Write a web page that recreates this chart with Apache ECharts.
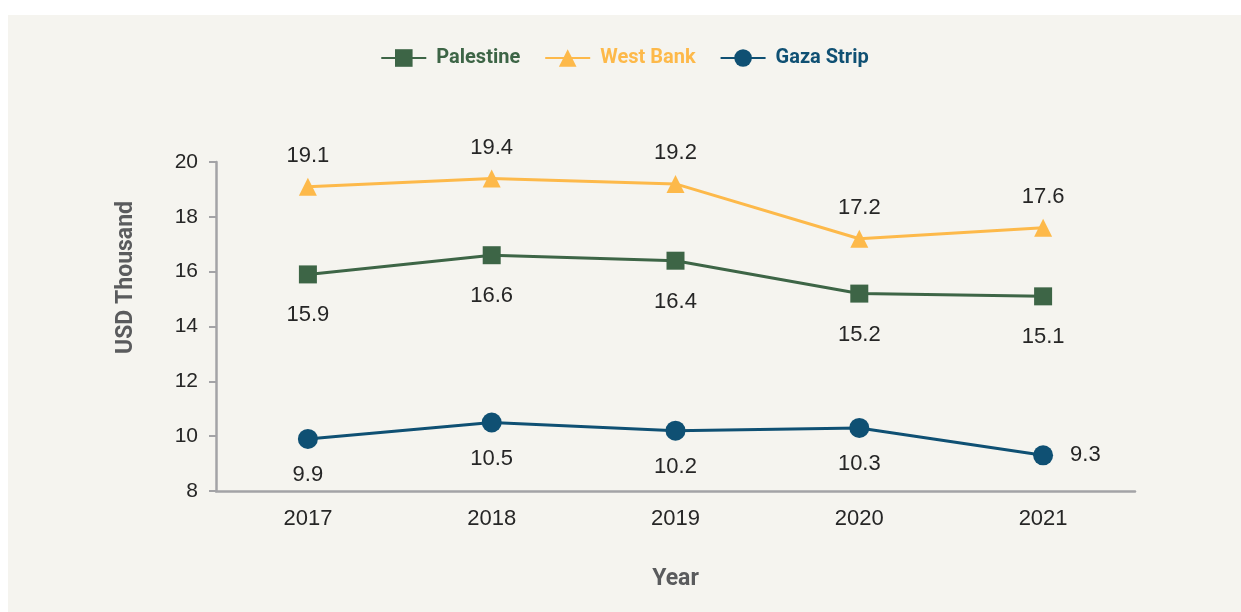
<!DOCTYPE html>
<html>
<head>
<meta charset="utf-8">
<title>Per capita GDP, Palestine, West Bank and Gaza Strip</title>
<script src="https://cdn.jsdelivr.net/npm/echarts@6/dist/echarts.min.js"></script>
<style>
  html, body { margin: 0; padding: 0; background: #ffffff; }
  #chart { position: absolute; left: 8px; top: 15px; width: 1233px; height: 597px; background: #f5f4ef; }
</style>
</head>
<body>
<div id="chart"></div>
<script>
// Years on the category axis
const years = ['2017', '2018', '2019', '2020', '2021'];

// Values in USD thousand
const palestine = [15.9, 16.6, 16.4, 15.2, 15.1];
const westBank = [19.1, 19.4, 19.2, 17.2, 17.6];
const gazaStrip = [9.9, 10.5, 10.2, 10.3, 9.3];

// Value axis ticks
const yTicks = [8, 10, 12, 14, 16, 18, 20];

const COLORS = {
  palestine: '#3d6546',
  westBank: '#fdb94a',
  gaza: '#0f5073'
};
const AXIS_GREY = '#a3a3a6';
const NAME_GREY = '#5a5b5d';
const LABEL_FONT = '"Liberation Sans", Arial, sans-serif';
const TITLE_FONT = 'Roboto, "Noto Sans", sans-serif';

const labelText = {
  fontFamily: LABEL_FONT,
  fontSize: 22,
  color: '#262626'
};

const chart = echarts.init(document.getElementById('chart'), null, { renderer: 'canvas' });

// The last Gaza Strip label sits to the right of its point
const gazaData = gazaStrip.map((v, i) =>
  i === gazaStrip.length - 1
    ? { value: v, label: { position: 'right', distance: 17 } }
    : v
);

chart.setOption({
  backgroundColor: '#f5f4ef',
  animation: false,
  legend: {
    top: 28,
    left: 'center',
    itemWidth: 45,
    itemHeight: 22,
    itemGap: 24,
    textStyle: {
      fontFamily: TITLE_FONT,
      fontWeight: 'bold',
      fontSize: 20,
      padding: [0, 0, 0, 5]
    },
    data: [
      { name: 'Palestine', textStyle: { color: COLORS.palestine } },
      { name: 'West Bank', textStyle: { color: COLORS.westBank } },
      { name: 'Gaza Strip', textStyle: { color: COLORS.gaza } }
    ]
  },
  grid: {
    left: 208,
    right: 106,
    top: 147,
    bottom: 121,
    containLabel: false
  },
  xAxis: {
    type: 'category',
    data: years,
    boundaryGap: true,
    name: 'Year',
    nameLocation: 'middle',
    nameGap: 77,
    nameTextStyle: {
      fontFamily: TITLE_FONT,
      fontWeight: 'bold',
      fontSize: 23,
      color: NAME_GREY,
      verticalAlign: 'top'
    },
    axisLine: { show: true, lineStyle: { color: AXIS_GREY, width: 2.5 } },
    axisTick: { show: false },
    axisLabel: {
      margin: 17,
      fontFamily: LABEL_FONT,
      fontSize: 22,
      color: '#262626'
    },
    splitLine: { show: false }
  },
  yAxis: {
    type: 'value',
    min: yTicks[0],
    max: yTicks[yTicks.length - 1],
    interval: yTicks[1] - yTicks[0],
    name: 'USD Thousand',
    nameLocation: 'middle',
    nameGap: 78,
    nameRotate: 90,
    nameTextStyle: {
      fontFamily: TITLE_FONT,
      fontWeight: 'bold',
      fontSize: 23,
      color: NAME_GREY,
      // lift the rotated title above the middle of the axis
      padding: [0, 0, 0, 98]
    },
    axisLine: { show: true, lineStyle: { color: AXIS_GREY, width: 2.5 } },
    axisTick: { show: true, length: 7, lineStyle: { color: AXIS_GREY, width: 2 } },
    axisLabel: {
      margin: 18,
      fontFamily: LABEL_FONT,
      fontSize: 21,
      color: '#262626'
    },
    splitLine: { show: false }
  },
  series: [
    {
      name: 'Palestine',
      type: 'line',
      data: palestine,
      symbol: 'rect',
      symbolSize: 18,
      itemStyle: { color: COLORS.palestine },
      lineStyle: { color: COLORS.palestine, width: 3 },
      label: Object.assign({ show: true, position: 'bottom', distance: 21 }, labelText)
    },
    {
      name: 'West Bank',
      type: 'line',
      data: westBank,
      symbol: 'triangle',
      symbolSize: 18,
      itemStyle: { color: COLORS.westBank },
      lineStyle: { color: COLORS.westBank, width: 3 },
      label: Object.assign({ show: true, position: 'top', distance: 11 }, labelText)
    },
    {
      name: 'Gaza Strip',
      type: 'line',
      data: gazaData,
      symbol: 'circle',
      symbolSize: 20,
      itemStyle: { color: COLORS.gaza },
      lineStyle: { color: COLORS.gaza, width: 3 },
      label: Object.assign({ show: true, position: 'bottom', distance: 15 }, labelText)
    }
  ]
});
</script>
</body>
</html>
